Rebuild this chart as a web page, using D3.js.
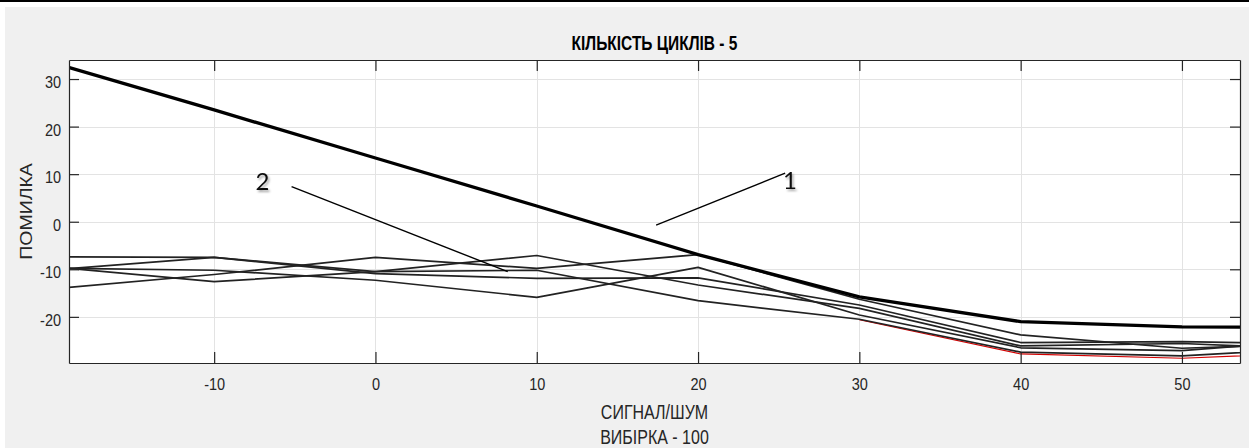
<!DOCTYPE html>
<html>
<head>
<meta charset="utf-8">
<script src="https://cdn.jsdelivr.net/npm/d3@7"></script>
<style>
  html, body { margin: 0; padding: 0; background: #fff; }
  svg { display: block; }
  text { font-family: "Liberation Sans", Arial, Helvetica, sans-serif; }
</style>
</head>
<body>
<svg id="chart" width="1249" height="448"></svg>
<script>
// Signal-to-noise ratio points (dB)
const snr = [-20, -10, 0, 10, 20, 30, 40, 50, 60];

// Curve 1: averaged error
const errorMean = [33.4, 23.5, 13.4, 3.3, -6.9, -15.8, -21.0, -22.1, -22.3];

// Curves 2: error of individual runs
const errorRun1 = [-7.4, -7.5, -10.5, -7.1, -13.3, -18.2, -26.1, -25.6, -27.0];
const errorRun2 = [-10.1, -7.5, -10.9, -11.9, -11.8, -17.5, -25.4, -25.2, -25.8];
const errorRun3 = [-9.5, -12.6, -10.5, -10.2, -16.6, -20.5, -27.4, -28.2, -26.3];
const errorRun4 = [-9.75, -10.2, -12.3, -15.9, -9.6, -19.6, -26.5, -27.1, -24.5];
const errorRun5 = [-14.1, -11.1, -7.5, -9.8, -6.9, -16.3, -23.8, -26.6, -25.5];
// Red reference trace (only the high-SNR part is recorded)
const errorRed = [null, null, null, null, null, -20.6, -27.8, -28.7, -27.3];

// Axis ticks and limits
const xTicks = [-10, 0, 10, 20, 30, 40, 50];
const yTicks = [-20, -10, 0, 10, 20, 30];
const xLimits = [-19, 53.6];
const yLimits = [-29.7, 34];

// Text
const titleText = "КІЛЬКІСТЬ ЦИКЛІВ - 5";
const xLabel1 = "СИГНАЛ/ШУМ";
const xLabel2 = "ВИБІРКА - 100";
const yLabelText = "ПОМИЛКА";

// Callout labels: [text, label x, label y, leader from x, from y, to x, to y] in data units
const callouts = [
  ["1", 25.7, 8.6, 25.4, 10.2, 17.4, -0.7],
  ["2", -7.0, 8.4, -5.2, 7.4, 8.2, -10.5]
];

const axisColor = "#262626";
const tall = 1.22;      // text is drawn slightly elongated vertically

const svg = d3.select("#chart");
const W = 1249, H = 448;
const plot = { left: 69, right: 1240, top: 60, bottom: 363 };
const cx = (plot.left + plot.right) / 2;

// Frame: thin rule on top, grey figure background
svg.append("rect").attr("x", 0).attr("y", 0).attr("width", W).attr("height", H).attr("fill", "#fff");
svg.append("rect").attr("x", 0).attr("y", 0).attr("width", W).attr("height", 2).attr("fill", "#000");
svg.append("rect").attr("x", 5).attr("y", 7).attr("width", W - 5).attr("height", H - 7).attr("fill", "#f0f0f0");

const x = d3.scaleLinear().domain(xLimits).range([plot.left, plot.right]);
const y = d3.scaleLinear().domain(yLimits).range([plot.bottom, plot.top]);

// Plot background
svg.append("rect")
  .attr("x", plot.left).attr("y", plot.top)
  .attr("width", plot.right - plot.left).attr("height", plot.bottom - plot.top)
  .attr("fill", "#fff");

// Grid
const grid = svg.append("g").attr("stroke", "#e3e3e3").attr("stroke-width", 1);
grid.selectAll("line.gx").data(xTicks).join("line")
  .attr("x1", d => Math.round(x(d)) + 0.5).attr("x2", d => Math.round(x(d)) + 0.5)
  .attr("y1", plot.top).attr("y2", plot.bottom);
grid.selectAll("line.gy").data(yTicks).join("line")
  .attr("y1", d => Math.round(y(d)) + 0.5).attr("y2", d => Math.round(y(d)) + 0.5)
  .attr("x1", plot.left).attr("x2", plot.right);

// Clip for data lines
svg.append("clipPath").attr("id", "plotClip").append("rect")
  .attr("x", plot.left).attr("y", plot.top)
  .attr("width", plot.right - plot.left).attr("height", plot.bottom - plot.top);

const line = d3.line()
  .defined(d => d !== null)
  .x((d, i) => x(snr[i])).y(d => y(d));
const lines = svg.append("g").attr("clip-path", "url(#plotClip)").attr("fill", "none")
  .attr("stroke-linejoin", "round");

lines.append("path").datum(errorRed).attr("d", line)
  .attr("stroke", "#d40000").attr("stroke-width", 1.2);

[errorRun1, errorRun2, errorRun3, errorRun4, errorRun5].forEach(run => {
  lines.append("path").datum(run).attr("d", line)
    .attr("stroke", "#222").attr("stroke-width", 1.7);
});

lines.append("path").datum(errorMean).attr("d", line)
  .attr("stroke", "#000").attr("stroke-width", 3.3);

// Axes (ticks inward on all four sides)
const fmt = d => String(d);
const tickTall = 1.15;
const axB = svg.append("g").attr("transform", `translate(0,${plot.bottom})`)
  .call(d3.axisBottom(x).tickValues(xTicks).tickSize(-11).tickSizeOuter(0).tickPadding(13.6).tickFormat(fmt));
const axT = svg.append("g").attr("transform", `translate(0,${plot.top})`)
  .call(d3.axisTop(x).tickValues(xTicks).tickSize(-11).tickSizeOuter(0).tickFormat(""));
const axL = svg.append("g").attr("transform", `translate(${plot.left},0)`)
  .call(d3.axisLeft(y).tickValues(yTicks).tickSize(-10).tickSizeOuter(0).tickPadding(8).tickFormat(fmt));
const axR = svg.append("g").attr("transform", `translate(${plot.right},0)`)
  .call(d3.axisRight(y).tickValues(yTicks).tickSize(-10).tickSizeOuter(0).tickFormat(""));

[axB, axT, axL, axR].forEach(ax => {
  ax.selectAll(".domain").attr("stroke", axisColor).attr("stroke-width", 1.2);
  ax.selectAll(".tick line").attr("stroke", axisColor).attr("stroke-width", 1.2);
  ax.selectAll(".tick text").attr("fill", axisColor)
    .attr("transform", `scale(1,${tickTall})`)
    .style("font-family", '"Liberation Sans", Arial, sans-serif').style("font-size", "14.5px");
});
axL.selectAll(".tick text").attr("dy", "0.52em");

// Title and axis labels
svg.append("text")
  .attr("transform", `translate(${cx},50) scale(1,${tall + 0.03})`)
  .attr("text-anchor", "middle")
  .style("font-weight", "bold").style("font-size", "15.5px")
  .attr("fill", "#000").text(titleText);

svg.append("text")
  .attr("transform", `translate(${cx},418.8) scale(1,${tall})`)
  .attr("text-anchor", "middle")
  .style("font-size", "16px")
  .attr("fill", axisColor).text(xLabel1);

svg.append("text")
  .attr("transform", `translate(${cx},443.6) scale(1,${tall})`)
  .attr("text-anchor", "middle")
  .style("font-size", "16px")
  .attr("fill", axisColor).text(xLabel2);

svg.append("text")
  .attr("transform", `translate(32,211.5) rotate(-90) scale(${tall},1)`)
  .attr("text-anchor", "middle")
  .style("font-size", "16px")
  .attr("fill", axisColor).text(yLabelText);

// Callouts with soft shadow
const defs = svg.append("defs");
const shadow = defs.append("filter").attr("id", "softShadow")
  .attr("x", "-50%").attr("y", "-50%").attr("width", "200%").attr("height", "200%");
shadow.append("feDropShadow").attr("dx", 1.5).attr("dy", 2).attr("stdDeviation", 1.2)
  .attr("flood-color", "#000").attr("flood-opacity", 0.35);

const co = svg.append("g");
co.selectAll("line").data(callouts).join("line")
  .attr("x1", d => x(d[3])).attr("y1", d => y(d[4]))
  .attr("x2", d => x(d[5])).attr("y2", d => y(d[6]))
  .attr("stroke", "#000").attr("stroke-width", 1.4);
co.selectAll("text").data(callouts).join("text")
  .attr("x", d => x(d[1])).attr("y", d => y(d[2]))
  .attr("text-anchor", "middle").attr("dy", "0.35em")
  .style("font-family", "Lato, 'Open Sans', sans-serif").style("font-size", "24px")
  .attr("fill", "#111").attr("filter", "url(#softShadow)")
  .text(d => d[0]);
</script>
</body>
</html>
